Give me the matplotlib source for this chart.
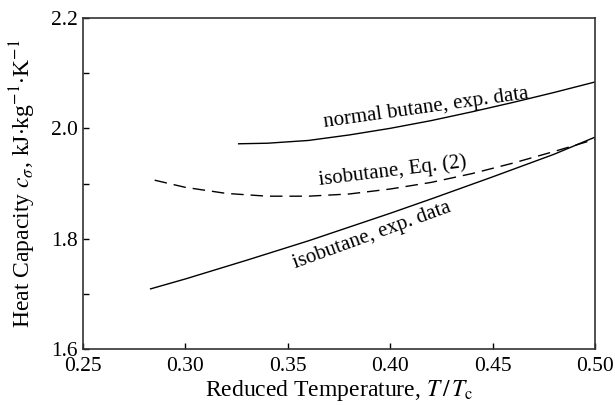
import matplotlib.pyplot as plt
import numpy as np

# heat capacity vs reduced temperature
t_nbutane = [0.326, 0.34, 0.36, 0.38, 0.40, 0.42, 0.44, 0.46, 0.48, 0.50]
cp_nbutane = [1.972, 1.973, 1.978, 1.988, 2.000, 2.014, 2.030, 2.047, 2.065, 2.084]

t_iso_eq = [0.285, 0.30, 0.32, 0.34, 0.36, 0.38, 0.40, 0.42, 0.44, 0.46, 0.48, 0.50]
cp_iso_eq = [1.906, 1.893, 1.882, 1.877, 1.877, 1.881, 1.890, 1.902, 1.918, 1.937, 1.958, 1.980]

t_iso_exp = [0.283, 0.30, 0.33, 0.36, 0.40, 0.42, 0.45, 0.48, 0.50]
cp_iso_exp = [1.709, 1.727, 1.761, 1.796, 1.846, 1.872, 1.912, 1.953, 1.984]

plt.rcParams['font.family'] = ['Liberation Serif', 'DejaVu Serif']
plt.rcParams['mathtext.fontset'] = 'stix'

fig = plt.figure(figsize=(6.15, 4.05), dpi=100)
ax = fig.add_axes([83/615, 1-349/405, (595-83)/615, (349-18)/405])

ax.plot(t_nbutane, cp_nbutane, color='black', lw=1.0)
ax.plot(t_iso_eq, cp_iso_eq, color='black', lw=1.0, dashes=(9, 5))
ax.plot(t_iso_exp, cp_iso_exp, color='black', lw=1.0)

ax.text(0.4175, 2.036, 'normal butane, exp. data', rotation=8, fontsize=15,
        ha='center', va='center')
ax.text(0.401, 1.923, 'isobutane, Eq. (2)', rotation=7, fontsize=15,
        ha='center', va='center')
ax.text(0.391, 1.806, 'isobutane, exp. data', rotation=20, fontsize=15,
        ha='center', va='center')

ax.set_xlim(0.25, 0.50)
ax.set_ylim(1.6, 2.2)
ax.set_xticks(np.arange(0.25, 0.501, 0.05))
ax.set_xticklabels(['0.25', '0.30', '0.35', '0.40', '0.45', '0.50'])
ax.set_yticks([1.6, 1.8, 2.0, 2.2])
ax.set_yticklabels(['1.6', '1.8', '2.0', '2.2'])
ax.set_yticks([1.7, 1.9, 2.1], minor=True)
ax.tick_params(direction='in', labelsize=15.5, length=4, width=1, pad=4)
ax.tick_params(axis='x', pad=6)
ax.tick_params(which='minor', direction='in', length=4, width=1)
for s in ax.spines.values():
    s.set_linewidth(1.2)
    s.set_color('#333333')

ax.set_xlabel(r'Reduced Temperature, $T\,/\,T_{\mathrm{c}}$', fontsize=17, labelpad=1)
ax.set_ylabel(r'Heat Capacity $c_{\sigma}$, kJ$\cdot$kg$^{-1}$$\cdot$K$^{-1}$', fontsize=17, labelpad=9)

fig.savefig('out.png', dpi=100)
